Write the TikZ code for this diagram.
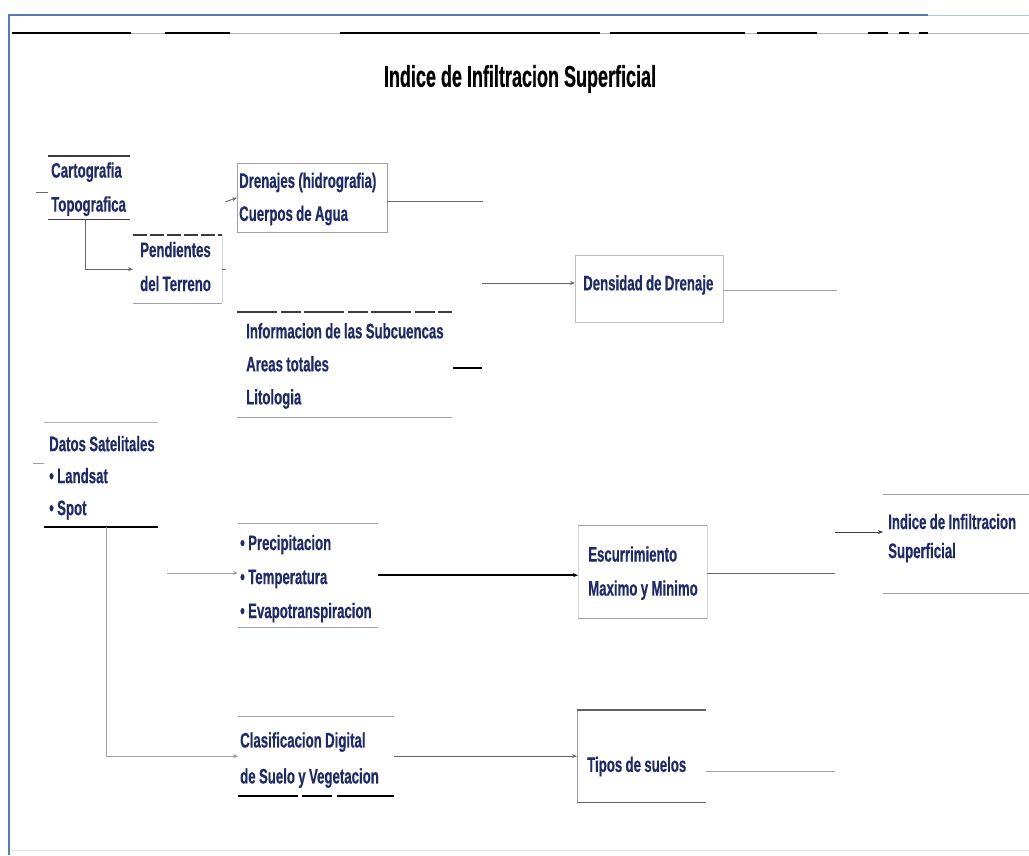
\documentclass[tikz,border=0pt]{standalone}
\usepackage{fontspec}
\usetikzlibrary{arrows.meta}
\newfontfamily\nf{Liberation Sans}[FakeStretch=0.63, BoldFeatures={FakeBold=0.4}]
\newfontfamily\tfam{Liberation Sans}[FakeStretch=0.60, BoldFeatures={FakeBold=0.4}]
\newcommand\rowsof[2]{\fontsize{21}{#1}\selectfont\begin{tabular}{@{}l@{}}#2\end{tabular}}
\definecolor{navy}{RGB}{30,42,105}
\definecolor{frameblue}{RGB}{85,125,175}
\definecolor{faintline}{RGB}{215,215,215}
\definecolor{midline}{RGB}{160,160,165}
\definecolor{darkline}{RGB}{60,60,60}
\definecolor{connline}{RGB}{105,105,105}
\begin{document}
\begin{tikzpicture}[x=1pt,y=-1pt,
  box/.style={anchor=north west, inner ysep=0pt, align=left, text=navy, font=\nf\bfseries},
  faint/.style={draw=faintline, line width=0.8pt},
  midedge/.style={draw=midline, line width=1pt},
  darkedge/.style={draw=darkline, line width=1.2pt},
  heavyedge/.style={draw=black, line width=2pt},
  conn/.style={draw=connline, line width=0.9pt},
  lightconn/.style={draw=midline, line width=1pt},
  heavy/.style={draw=black, line width=2pt},
  tip/.style={-{Stealth[length=5pt,width=4pt]}}]
\useasboundingbox (0,0) rectangle (1029,855);
\fill[white] (0,0) rectangle (1029,855);

% frame
\draw[frameblue, line width=1.6pt] (9,855) -- (9,15) -- (928,15);
\draw[frameblue!45, line width=1pt] (928,15) -- (1029,15);
\draw[gray!60, line width=0.8pt] (12,33) -- (1029,33);
\foreach \a/\b in {12/131,165/230,340/600,610/745,757/817,868/888,899/909,919/928}
  \draw[black, line width=2.2pt] (\a,33) -- (\b,33);
\draw[gray!20, line width=1pt] (12,850) -- (1029,850);

% title
\node[font=\tfam\bfseries\fontsize{30}{34}\selectfont, text=black] (title) at (520,79) {Indice de Infiltracion Superficial};

% boxes
\node[box, inner xsep=3pt, minimum width=82pt, minimum height=63pt, text width=76pt, text height=10.5pt, text depth=0pt] (cart) at (48,156) {\rowsof{34}{Cartografia\\Topografica}};
\node[box, inner xsep=7pt, minimum width=89pt, minimum height=68pt, text width=75pt, text height=6.5pt, text depth=0pt] (pend) at (133,235) {\rowsof{34}{Pendientes\\del Terreno}};
\node[box, inner xsep=2pt, minimum width=150pt, minimum height=69pt, text width=146pt, text height=10.5pt, text depth=0pt] (dren) at (237,163) {\rowsof{33}{Drenajes (hidrografia)\\Cuerpos de Agua}};
\node[box, inner xsep=9pt, minimum width=215pt, minimum height=105pt, text width=197pt, text height=10.5pt, text depth=0pt] (info) at (237,312) {\rowsof{33}{Informacion de las Subcuencas\\Areas totales\\Litologia}};
\node[box, inner xsep=8pt, minimum width=148pt, minimum height=67pt, text width=132pt, text height=0.5pt, text depth=0pt] (dens) at (575,255) {\rowsof{33}{Densidad de Drenaje}};
\node[box, inner xsep=5pt, minimum width=114pt, minimum height=105pt, text width=104pt, text height=14.5pt, text depth=0pt] (datos) at (44,422) {\rowsof{32}{Datos Satelitales\\• Landsat\\• Spot}};
\node[box, inner xsep=2pt, minimum width=140pt, minimum height=104pt, text width=136pt, text height=14.5pt, text depth=0pt] (prec) at (238,523) {\rowsof{34}{• Precipitacion\\• Temperatura\\• Evapotranspiracion}};
\node[box, inner xsep=10pt, minimum width=129pt, minimum height=93pt, text width=109pt, text height=10.5pt, text depth=0pt] (esc) at (578,525) {\rowsof{34}{Escurrimiento\\Maximo y Minimo}};
\node[box, inner xsep=5pt, minimum width=146pt, minimum height=99pt, text width=136pt, text height=0pt, text depth=1.5pt] (ind) at (883,494) {\rowsof{29}{Indice de Infiltracion\\Superficial}};
\node[box, inner xsep=2pt, minimum width=156pt, minimum height=80pt, text width=152pt, text height=14.5pt, text depth=0pt] (clas) at (238,716) {\rowsof{36}{Clasificacion Digital\\de Suelo y Vegetacion}};
\node[box, inner xsep=10pt, minimum width=129pt, minimum height=92pt, text width=109pt, text height=28.5pt, text depth=0pt] (tipos) at (577,710) {\rowsof{33}{Tipos de suelos}};

% box edges
\draw[darkedge] (cart.north west) -- (cart.north east);
\draw[darkedge] (cart.south west) -- (cart.south east);
\draw[faint] (pend.north east) -- (pend.south east);
\draw[darkedge, dash pattern=on 14pt off 3pt] (pend.north west) -- (pend.north east);
\draw[midedge] (pend.south west) -- (pend.south east);
\draw[midedge] (dren.north west) rectangle (dren.south east);
\draw[darkedge, dash pattern=on 40pt off 4pt on 20pt off 3pt] (info.north west) -- (info.north east);
\draw[midedge] (info.south west) -- (info.south east);
\draw[faint, draw=midline!70] (dens.north west) rectangle (dens.south east);
\draw[faint, draw=midline!80] (datos.north west) -- (datos.north east);
\draw[heavyedge] (datos.south west) -- (datos.south east);
\draw[midedge] (prec.north west) -- (prec.north east);
\draw[midedge, draw=navy!45] (prec.south west) -- (prec.south east);
\draw[faint] (esc.north west) rectangle (esc.south east);
\draw[midedge] (esc.north west) -- (esc.north east);
\draw[midedge] (esc.south west) -- (esc.south east);
\draw[midedge] (ind.north west) -- (ind.north east);
\draw[midedge] (ind.south west) -- (ind.south east);
\draw[midedge] (clas.north west) -- (clas.north east);
\draw[heavyedge, dash pattern=on 60pt off 4pt on 30pt off 5pt] (clas.south west) -- (clas.south east);
\draw[midedge] (tipos.north west) -- (tipos.south west);
\draw[darkedge, draw=darkline!80] (tipos.north west) -- (tipos.north east);
\draw[darkedge, draw=darkline!80] (tipos.south west) -- (tipos.south east);

% connectors
\coordinate (cin) at (36,192);
\draw[conn] (cin) -- (cin -| cart.west);
\draw[conn, tip] ([xshift=37pt]cart.south west) |- (pend.west);
\draw[conn] (pend.east) -- ++(4,0);
\coordinate (din) at (225,202);
\draw[conn, tip] (din) -- (dren.west);
\draw[conn] ([yshift=-4pt]dren.east) -- ++(96,0);
\coordinate (ia1) at (453,368);
\coordinate (ia2) at (482,368);
\draw[heavy] (ia1) -- (ia2);
\coordinate (dsin) at (482,283);
\draw[conn, tip] (dsin) -- (dsin -| dens.west);
\draw[lightconn] ([yshift=-2pt]dens.east) -- ++(114,0);
\coordinate (sin) at (33,463);
\draw[lightconn] (sin) -- (sin -| datos.west);
\draw[conn, draw=midline, tip] ([xshift=62pt]datos.south west) |- (clas.west);
\coordinate (pin) at (167,573);
\draw[conn, draw=midline, tip] (pin) -- (pin -| prec.west);
\draw[heavy, tip] (prec.east) -- (prec.east -| esc.west);
\draw[conn] ([yshift=-2pt]esc.east) -- ++(128,0);
\coordinate (iin) at (835,532);
\draw[conn, draw=darkline, tip] (iin) -- (iin -| ind.west);
\draw[conn, tip] (clas.east) -- (clas.east -| tipos.west);
\draw[lightconn] ([yshift=-15pt]tipos.east) -- ++(129,0);
\end{tikzpicture}
\end{document}
